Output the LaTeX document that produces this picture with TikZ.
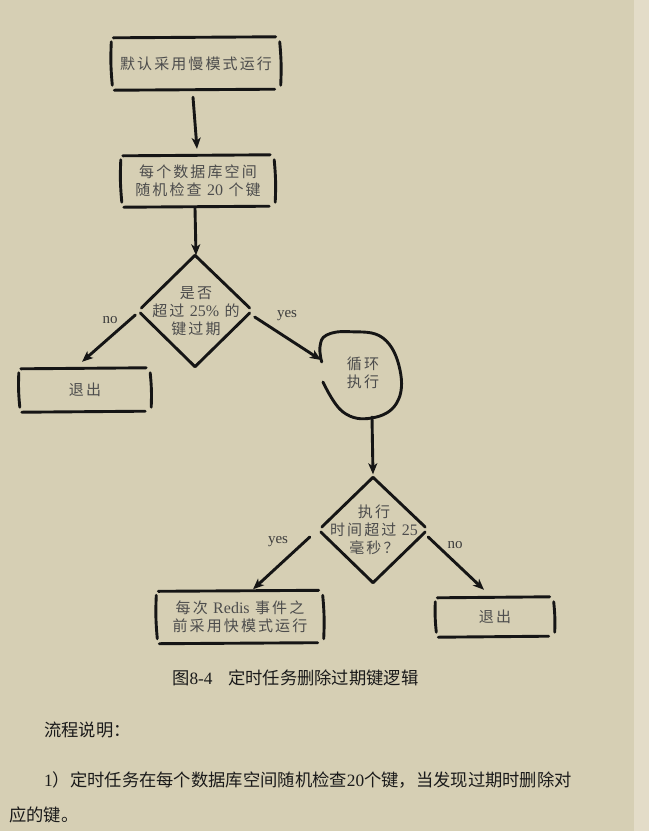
\documentclass[tikz,border=0pt]{standalone}
\usepackage{fontspec}
\setmainfont{Liberation Serif}
\newfontfamily\cjk{Noto Sans CJK SC}
\newfontfamily\hand[LetterSpace=14]{Noto Sans CJK SC}
\usetikzlibrary{shapes.geometric,arrows.meta}
\definecolor{bg}{HTML}{D6CFB4}
\definecolor{strip}{HTML}{E3DCC8}
\definecolor{ink}{HTML}{151515}
\definecolor{htext}{HTML}{4C4C4C}
\definecolor{btext}{HTML}{1A1A1A}
\newcommand{\lat}[1]{{\rmfamily\fontsize{16}{18}\selectfont #1}}
\newcommand{\handbox}[1]{%
 \draw[ln] ([shift={(1,1)}]#1.north west) -- ([shift={(-4,0)}]#1.north east);
 \draw[ln] ([shift={(2,0)}]#1.south west) -- ([shift={(-5,-1)}]#1.south east);
 \draw[ln] ([shift={(-1,5)}]#1.north west) to[bend right=4] ([shift={(0,-5)}]#1.south west);
 \draw[ln] ([shift={(0,5)}]#1.north east) to[bend left=4] ([shift={(1,-5)}]#1.south east);
}
\newcommand{\handdiamond}[1]{%
 \draw[ln] (#1.north) -- ([shift={(2,-3)}]#1.west);
 \draw[ln] (#1.north) -- ([shift={(-1,-3)}]#1.east);
 \draw[ln] ([shift={(1,2)}]#1.west) -- (#1.south);
 \draw[ln] ([shift={(-1,2)}]#1.east) -- (#1.south);
}
\begin{document}
\begin{tikzpicture}[x=1pt,y=-1pt,
 ln/.style={line width=2.9pt,line cap=round,draw=ink},
 arr/.style={ln,-{Stealth[length=11pt,width=9pt,inset=3pt]}},
 hb/.style={draw=none,inner sep=0,text=htext,align=center,
   font=\hand\fontsize{15}{18}\selectfont},
 dm/.style={diamond,draw=none,inner sep=0},
 lab/.style={text=btext!85,font=\rmfamily\fontsize{15}{17}\selectfont,inner sep=0},
 body/.style={anchor=west,inner sep=0,text=btext,font=\cjk\fontsize{17.3}{20}\selectfont}]
\useasboundingbox (0,0) rectangle (649,831);
\fill[bg] (0,0) rectangle (649,831);
\fill[strip] (634,0) rectangle (649,831);

% boxes
\node[hb,minimum width=167,minimum height=53] (b1) at (196,63.5) {默认采用慢模式运行};
\node[hb,minimum width=152,minimum height=52] (b2) at (198,181) {每个数据库空间\\随机检查 \lat{20} 个键};
\node[hb,minimum width=130,minimum height=44] (e1) at (85,390) {退出};
\node[hb,minimum width=165,minimum height=53] (b3) at (240,617) {每次 \lat{Redis} 事件之\\前采用快模式运行};
\node[hb,minimum width=117,minimum height=40] (e2) at (495,617) {退出};
\handbox{b1}
\handbox{b2}
\handbox{e1}
\handbox{b3}
\handbox{e2}

% diamonds
\node[dm,minimum width=111,minimum height=111] (d1) at (195,311) {};
\node[hb] (d1t) at (196,311) {是否\\超过 \lat{25\%} 的\\键过期};
\node[dm,minimum width=106,minimum height=105] (d2) at (373,530) {};
\node[hb] (d2t) at (374,530) {执行\\时间超过 \lat{25}\\毫秒？};
\handdiamond{d1}
\handdiamond{d2}

% loop
\node[hb,circle,minimum size=80] (lp) at (363,373) {循环\\执行};
\coordinate (lpin) at (321,360);
\draw[ln] plot[smooth,tension=0.7] coordinates {(321.7,362) (320,346.7) (326.7,335) (350,331.7) (383,338) (400,370) (396.7,403) (371.7,418) (343,412) (323,382)};

% connectors
\draw[arr] ([shift={(-3,7)}]b1.south) -- ([shift={(-1,-6)}]b2.north);
\draw[arr] ([shift={(-3,1)}]b2.south) -- ([shift={(1,0)}]d1.north);
\draw[arr] ([shift={(-4,4)}]d1.west) -- ([shift={(-3,-6)}]e1.north);
\draw[arr] ([shift={(4,6)}]d1.east) -- (lpin);
\draw[arr] ([shift={(9,44)}]lp.center) -- ([shift={(0,-3)}]d2.north);
\draw[arr] ([shift={(-10,7)}]d2.west) -- ([shift={(13,-1)}]b3.north);
\draw[arr] ([shift={(2,7)}]d2.east) -- ([shift={(-11,-7)}]e2.north);

% labels
\node[lab] (lno1) at (110,320) {no};
\node[lab] (lyes1) at (287,316) {yes};
\node[lab] (lyes2) at (278,542) {yes};
\node[lab] (lno2) at (455,545) {no};

% caption and text
\node[body] (cap) at (172,678) {图{\rmfamily 8-4}\hspace{0.9em}定时任务删除过期键逻辑};
\node[body] (p1) at (44,730) {流程说明：};
\node[body] (p2) at (44,780) {{\rmfamily 1}）定时任务在每个数据库空间随机检查{\rmfamily 20}个键，当发现过期时删除对};
\node[body] (p3) at (9,815) {应的键。};
\end{tikzpicture}
\end{document}
